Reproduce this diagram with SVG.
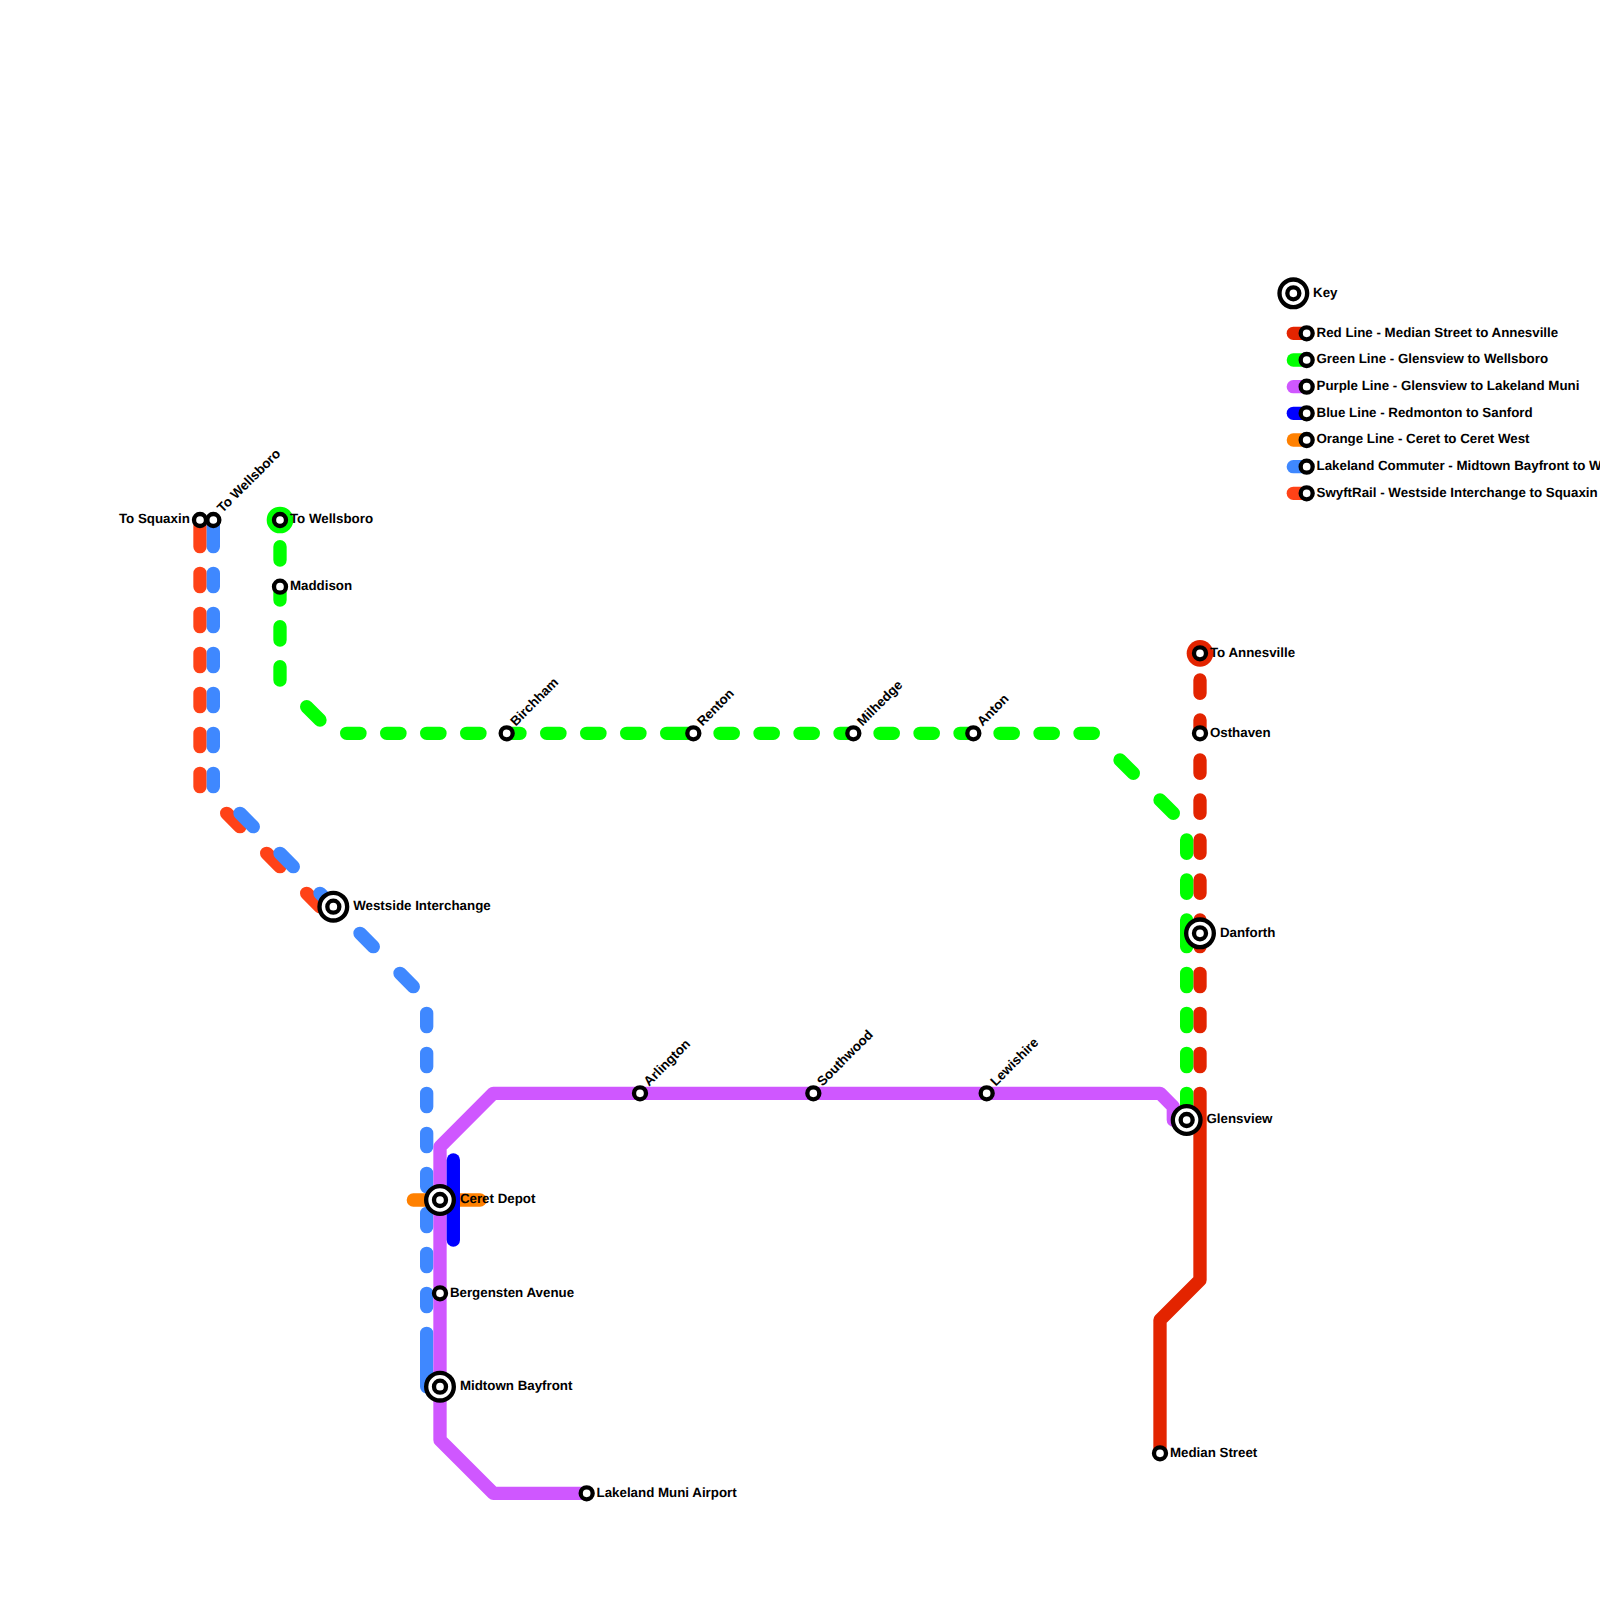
<svg xmlns="http://www.w3.org/2000/svg" width="1600" height="1600" viewBox="0 0 1600 1600">
<style>
.ln{fill:none;stroke-width:13.33;stroke-linecap:round;stroke-linejoin:round}
.sw{stroke:#ff4217}.lk{stroke:#3f88ff}.or{stroke:#ff8000}.rd{stroke:#e32400}.gr{stroke:#00ff00}.pu{stroke:#cf57ff}.bl{stroke:#0000ff}
.s{fill:#fff;stroke:#000;stroke-width:4.33}
text{font-family:"Liberation Sans",Arial,sans-serif;font-weight:700;font-size:13.33px;fill:#000;text-rendering:geometricPrecision}
</style>
<defs>
<g id="st"><circle class="s" r="6"/></g>
<g id="ix"><circle class="s" r="13.83"/><circle class="s" r="6"/></g>
</defs>
<rect width="1600" height="1600" fill="#fff"/>
<g id="connectors">
<path class="ln sw" d="M200 520V546.67M200 573.33V586.67M200 613.33V626.67M200 653.33V666.67M200 693.33V706.67M200 733.33V746.67M200 773.33V786.67M226.67 813.33L240 826.67M266.67 853.33L280 866.67M306.67 893.33L320 906.67"/>
<path class="ln lk" d="M213.33 520V546.67M213.33 573.33V586.67M213.33 613.33V626.67M213.33 653.33V666.67M213.33 693.33V706.67M213.33 733.33V746.67M213.33 773.33V786.67M240 813.33L253.33 826.67M280 853.33L293.33 866.67M320 893.33L333.33 906.67M360 933.33L373.33 946.67M400 973.33L413.33 986.67M426.67 1013.33V1026.67M426.67 1053.33V1066.67M426.67 1093.33V1106.67M426.67 1133.33V1146.67M426.67 1173.33V1186.67M426.67 1213.33V1226.67M426.67 1253.33V1266.67M426.67 1293.33V1306.67M426.67 1333.33V1386.67"/>
<path class="ln or" d="M413.33 1200H440M453.33 1200H480"/>
<path class="ln rd" d="M1200 680V693.33M1200 720V733.33M1200 760V773.33M1200 800V813.33M1200 840V853.33M1200 880V893.33M1200 920V946.67M1200 973.33V986.67M1200 1013.33V1026.67M1200 1053.33V1066.67M1200 1093.33V1280L1160 1320V1453.33"/>
<path class="ln gr" d="M280 546.67V560M280 586.67V600M280 626.67V640M280 666.67V680M306.67 706.67L320 720M346.67 733.33H360M386.67 733.33H400M426.67 733.33H440M466.67 733.33H480M506.67 733.33H520M546.67 733.33H560M586.67 733.33H600M626.67 733.33H640M666.67 733.33H693.33M720 733.33H733.33M760 733.33H773.33M800 733.33H813.33M840 733.33H853.33M880 733.33H893.33M920 733.33H933.33M960 733.33H973.33M1000 733.33H1013.33M1040 733.33H1053.33M1080 733.33H1093.33M1120 760L1133.33 773.33M1160 800L1173.33 813.33M1186.67 840V853.33M1186.67 880V893.33M1186.67 920V946.67M1186.67 973.33V986.67M1186.67 1013.33V1026.67M1186.67 1053.33V1066.67M1186.67 1093.33V1120"/>
<path class="ln pu" d="M1173.33 1120V1106.67L1160 1093.33H493.33L440 1146.67V1440L493.33 1493.33H586.67"/>
<path class="ln bl" d="M453.33 1160V1240"/>
<path class="ln rd" d="M1293.33 333.33H1306.67"/>
<path class="ln gr" d="M1293.33 360H1306.67"/>
<path class="ln pu" d="M1293.33 386.67H1306.67"/>
<path class="ln bl" d="M1293.33 413.33H1306.67"/>
<path class="ln or" d="M1293.33 440H1306.67"/>
<path class="ln lk" d="M1293.33 466.67H1306.67"/>
<path class="ln sw" d="M1293.33 493.33H1306.67"/>
</g>
<g id="to-squaxin"><use href="#st" x="200" y="520"/><text x="189.8" y="523.3" text-anchor="end">To Squaxin</text></g>
<g id="to-wellsboro-west"><use href="#st" x="213.33" y="520"/><text transform="translate(222.4 513.3) rotate(-45)">To Wellsboro</text></g>
<g id="to-wellsboro"><circle cx="280" cy="520" r="13.33" fill="#00ff00"/><use href="#st" x="280" y="520"/><text x="289.9" y="523.3">To Wellsboro</text></g>
<g id="maddison"><use href="#st" x="280" y="586.67"/><text x="289.9" y="590">Maddison</text></g>
<g id="westside-interchange"><use href="#ix" x="333.33" y="906.67"/><text x="353.2" y="910">Westside Interchange</text></g>
<g id="birchham"><use href="#st" x="506.67" y="733.33"/><text transform="translate(515.7 726.7) rotate(-45)">Birchham</text></g>
<g id="renton"><use href="#st" x="693.33" y="733.33"/><text transform="translate(702.4 726.7) rotate(-45)">Renton</text></g>
<g id="milhedge"><use href="#st" x="853.33" y="733.33"/><text transform="translate(862.4 726.7) rotate(-45)">Milhedge</text></g>
<g id="anton"><use href="#st" x="973.33" y="733.33"/><text transform="translate(982.4 726.7) rotate(-45)">Anton</text></g>
<g id="arlington"><use href="#st" x="640" y="1093.33"/><text transform="translate(649.1 1086.7) rotate(-45)">Arlington</text></g>
<g id="southwood"><use href="#st" x="813.33" y="1093.33"/><text transform="translate(822.4 1086.7) rotate(-45)">Southwood</text></g>
<g id="lewishire"><use href="#st" x="986.67" y="1093.33"/><text transform="translate(995.7 1086.7) rotate(-45)">Lewishire</text></g>
<g id="ceret-depot"><use href="#ix" x="440" y="1200"/><text x="459.9" y="1203.3">Ceret Depot</text></g>
<g id="bergensten-avenue"><use href="#st" x="440" y="1293.33"/><text x="449.9" y="1296.67">Bergensten Avenue</text></g>
<g id="midtown-bayfront"><use href="#ix" x="440" y="1386.67"/><text x="459.9" y="1390">Midtown Bayfront</text></g>
<g id="lakeland-muni-airport"><use href="#st" x="586.67" y="1493.33"/><text x="596.5" y="1496.67">Lakeland Muni Airport</text></g>
<g id="to-annesville"><circle cx="1200" cy="653.33" r="13.33" fill="#e32400"/><use href="#st" x="1200" y="653.33"/><text x="1209.9" y="656.67">To Annesville</text></g>
<g id="osthaven"><use href="#st" x="1200" y="733.33"/><text x="1209.9" y="736.67">Osthaven</text></g>
<g id="danforth"><use href="#ix" x="1200" y="933.33"/><text x="1219.9" y="936.67">Danforth</text></g>
<g id="glensview"><use href="#ix" x="1186.67" y="1120"/><text x="1206.5" y="1123.33">Glensview</text></g>
<g id="median-street"><use href="#st" x="1160" y="1453.33"/><text x="1169.9" y="1456.67">Median Street</text></g>
<g id="key"><use href="#ix" x="1293.33" y="293.33"/><text x="1313" y="296.67">Key</text></g>
<g id="key-red"><use href="#st" x="1306.67" y="333.33"/><text x="1316.5" y="336.67">Red Line - Median Street to Annesville</text></g>
<g id="key-green"><use href="#st" x="1306.67" y="360"/><text x="1316.5" y="363.33">Green Line - Glensview to Wellsboro</text></g>
<g id="key-purple"><use href="#st" x="1306.67" y="386.67"/><text x="1316.5" y="390">Purple Line - Glensview to Lakeland Muni</text></g>
<g id="key-blue"><use href="#st" x="1306.67" y="413.33"/><text x="1316.5" y="416.67">Blue Line - Redmonton to Sanford</text></g>
<g id="key-orange"><use href="#st" x="1306.67" y="440"/><text x="1316.5" y="443.33">Orange Line - Ceret to Ceret West</text></g>
<g id="key-lakeland"><use href="#st" x="1306.67" y="466.67"/><text x="1316.5" y="470">Lakeland Commuter - Midtown Bayfront to W</text></g>
<g id="key-swyft"><use href="#st" x="1306.67" y="493.33"/><text x="1316.5" y="496.67">SwyftRail - Westside Interchange to Squaxin</text></g>
</svg>
